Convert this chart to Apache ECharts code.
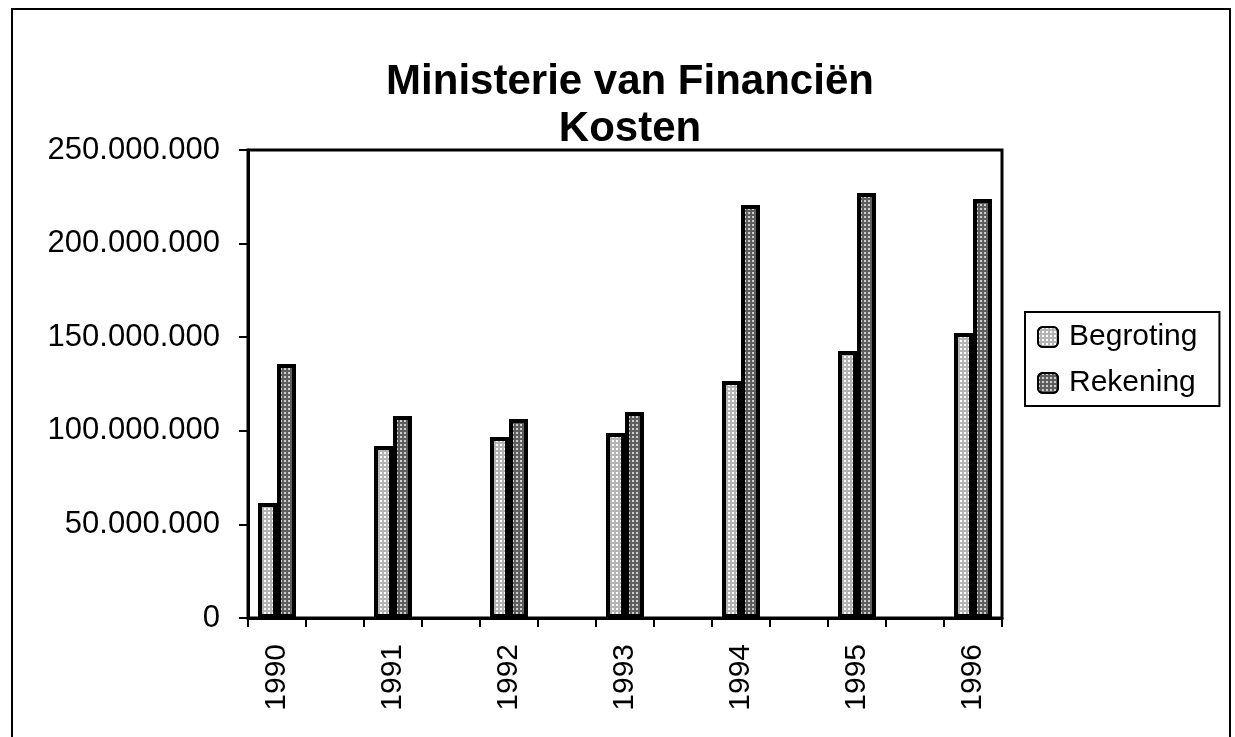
<!DOCTYPE html>
<html>
<head>
<meta charset="utf-8">
<script src="https://cdn.jsdelivr.net/npm/echarts@6/dist/echarts.min.js"></script>
<style>
    html, body { margin: 0; padding: 0; background: #fff; }
    #chart { width: 1235px; height: 737px; }
</style>
</head>
<body>
<div id="chart"></div>
<script>
// years, with an empty slot between each pair (like the original sheet)
const years = ['1990', '1991', '1992', '1993', '1994', '1995', '1996'];
const begroting = [61400000, 91900000, 96700000, 98800000, 126600000, 142600000, 152200000];
const rekening = [135700000, 107900000, 106300000, 110000000, 220600000, 227000000, 223800000];
const yTicks = { min: 0, max: 250000000, step: 50000000 };

const FONT = '"Liberation Sans", Arial, sans-serif';

// spread the yearly values over the slots, blanks get '-'
function spread(list, blank) {
    const out = [];
    list.forEach((v, i) => {
        if (i > 0) out.push(blank);
        out.push(v);
    });
    return out;
}

const slots = spread(years, '');

function dots(n) {
    return String(n).replace(/\B(?=(\d{3})+(?!\d))/g, '.');
}

const chart = echarts.init(document.getElementById('chart'));

const option = {
    backgroundColor: '#fff',
    animation: false,
    title: {
        text: 'Ministerie van Financiën\nKosten',
        left: 625,
        top: 54,
        textAlign: 'center',
        textStyle: {
            fontFamily: FONT,
            fontSize: 42,
            fontWeight: 'bold',
            lineHeight: 47,
            color: '#000'
        }
    },
    legend: {
        orient: 'vertical',
        left: 1025,
        top: 312,
        width: 160,
        padding: [10, 22, 8, 12],
        borderColor: '#000',
        borderWidth: 2,
        itemWidth: 20,
        itemHeight: 20,
        itemGap: 16,
        textStyle: {
            fontFamily: FONT,
            fontSize: 30,
            color: '#000',
            padding: [0, 0, 0, 6]
        },
        itemStyle: { borderColor: '#000', borderWidth: 2 }
    },
    graphic: [
        {
            // scanned page frame
            type: 'rect',
            shape: { x: 12, y: 9, width: 1218, height: 760 },
            style: { fill: 'none', stroke: '#000', lineWidth: 2 },
            silent: true
        }
    ],
    grid: {
        left: 248,
        top: 150,
        right: 233,
        bottom: 119,
        show: true,
        borderColor: '#000',
        borderWidth: 3,
        backgroundColor: 'transparent'
    },
    xAxis: {
        type: 'category',
        data: slots,
        boundaryGap: true,
        axisLine: { lineStyle: { color: '#000', width: 3 } },
        axisTick: { show: true, interval: 0, length: 9, lineStyle: { color: '#000', width: 2 } },
        axisLabel: {
            interval: 0,
            rotate: 90,
            margin: 26,
            fontFamily: FONT,
            fontSize: 30,
            color: '#000'
        },
        splitLine: { show: false }
    },
    yAxis: {
        type: 'value',
        min: yTicks.min,
        max: yTicks.max,
        interval: yTicks.step,
        axisLine: { show: true, lineStyle: { color: '#000', width: 3 } },
        axisTick: { show: true, length: 9, lineStyle: { color: '#000', width: 2 } },
        axisLabel: {
            margin: 28,
            fontFamily: FONT,
            fontSize: 31,
            color: '#000',
            formatter: v => dots(v)
        },
        splitLine: { show: false }
    },
    series: [
        {
            name: 'Begroting',
            type: 'bar',
            data: spread(begroting, '-'),
            barWidth: 19,
            barGap: '0%',
            itemStyle: {
                color: '#b4b4b4',
                borderColor: '#000',
                borderWidth: 4,
                decal: {
                    symbol: 'rect',
                    symbolSize: 1,
                    color: '#ffffff',
                    dashArrayX: [2, 2],
                    dashArrayY: [2, 2],
                    rotation: 0
                }
            }
        },
        {
            name: 'Rekening',
            type: 'bar',
            data: spread(rekening, '-'),
            barWidth: 19,
            itemStyle: {
                color: '#5e5e5e',
                borderColor: '#000',
                borderWidth: 4,
                decal: {
                    symbol: 'rect',
                    symbolSize: 1,
                    color: '#d0d0d0',
                    dashArrayX: [2, 2],
                    dashArrayY: [2, 2],
                    rotation: 0
                }
            }
        }
    ]
};

chart.setOption(option);
window.addEventListener('resize', () => chart.resize());
</script>
</body>
</html>
